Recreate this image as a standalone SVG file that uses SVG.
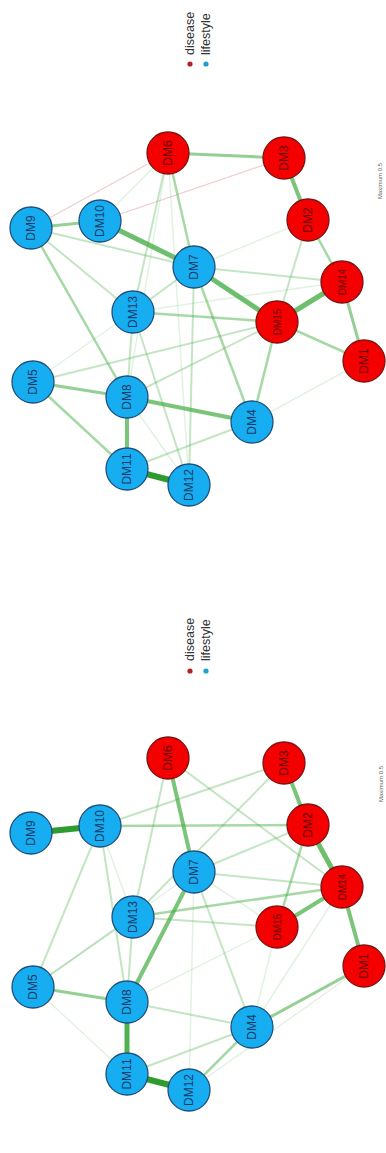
<svg xmlns="http://www.w3.org/2000/svg" width="386" height="1153" viewBox="0 0 386 1153">
<style>
line{fill:none;stroke-linecap:round}
.w6{stroke:#2e9b2e;stroke-width:6}
.w5{stroke:#3caa3c;stroke-opacity:.75;stroke-width:5}
.w4{stroke:#3caa3c;stroke-opacity:.68;stroke-width:4}
.w3{stroke:#3caa3c;stroke-opacity:.55;stroke-width:3}
.w25{stroke:#3caa3c;stroke-opacity:.45;stroke-width:2.5}
.l2{stroke:#3caa3c;stroke-opacity:.3;stroke-width:2}
.f{stroke:#3caa3c;stroke-opacity:.15;stroke-width:1.5}
.pk{stroke:#d98080;stroke-opacity:.4;stroke-width:1.2}
.nb circle{fill:#16aef0;stroke:#1d4f7c;stroke-width:1.3}
.nr circle{fill:#f40000;stroke:#7e1010;stroke-width:1.3}
.nb text,.nr text{font-family:"Liberation Sans",Arial,sans-serif;font-size:12px;text-anchor:middle;dominant-baseline:central}
.nb text{fill:#163b6b}
.nr text{fill:#6e0000}
.sm{font-size:10px!important}
.lg{font-family:"Liberation Sans",Arial,sans-serif;font-size:12.5px;fill:#333;dominant-baseline:central}
.mx{font-family:"Liberation Sans",Arial,sans-serif;font-size:6px;fill:#666;text-anchor:middle;dominant-baseline:central}
</style>

<!-- ===== TOP PANEL ===== -->
<g id="top-panel">
<g id="top-legend">
<circle cx="190" cy="64" r="2.6" fill="#b22222"/>
<circle cx="206" cy="64" r="2.6" fill="#1e9fd0"/>
<text class="lg" x="190" y="55" transform="rotate(-90 190 55)">disease</text>
<text class="lg" x="206" y="55" transform="rotate(-90 206 55)">lifestyle</text>
<text class="mx" x="380" y="181" transform="rotate(-90 380 181)">Maximum 0.5</text>
</g>
<g id="top-edges">
<line class="pk" x1="100" y1="221" x2="284" y2="158"/>
<line class="pk" x1="31" y1="228" x2="168" y2="153"/>
<line class="f" x1="168" y1="153" x2="100" y2="221"/>
<line class="f" x1="168" y1="153" x2="127" y2="397"/>
<line class="f" x1="168" y1="153" x2="189" y2="485"/>
<line class="f" x1="33" y1="382" x2="133" y2="312"/>
<line class="f" x1="127" y1="397" x2="189" y2="485"/>
<line class="f" x1="252" y1="422" x2="364" y2="361"/>
<line class="f" x1="133" y1="312" x2="342" y2="282"/>
<line class="f" x1="308" y1="220" x2="194" y2="267"/>
<line class="l2" x1="168" y1="153" x2="133" y2="312"/>
<line class="l2" x1="31" y1="228" x2="133" y2="312"/>
<line class="l2" x1="31" y1="228" x2="194" y2="267"/>
<line class="l2" x1="194" y1="267" x2="342" y2="282"/>
<line class="l2" x1="194" y1="267" x2="189" y2="485"/>
<line class="l2" x1="133" y1="312" x2="127" y2="397"/>
<line class="l2" x1="133" y1="312" x2="189" y2="485"/>
<line class="l2" x1="133" y1="312" x2="194" y2="267"/>
<line class="l2" x1="33" y1="382" x2="277" y2="322"/>
<line class="l2" x1="127" y1="397" x2="277" y2="322"/>
<line class="l2" x1="127" y1="469" x2="252" y2="422"/>
<line class="l2" x1="308" y1="220" x2="277" y2="322"/>
<line class="w25" x1="168" y1="153" x2="194" y2="267"/>
<line class="w25" x1="194" y1="267" x2="252" y2="422"/>
<line class="w25" x1="133" y1="312" x2="277" y2="322"/>
<line class="w25" x1="252" y1="422" x2="277" y2="322"/>
<line class="w25" x1="308" y1="220" x2="342" y2="282"/>
<line class="w25" x1="277" y1="322" x2="364" y2="361"/>
<line class="w25" x1="31" y1="228" x2="127" y2="397"/>
<line class="w25" x1="33" y1="382" x2="127" y2="469"/>
<line class="w3" x1="168" y1="153" x2="284" y2="158"/>
<line class="w3" x1="31" y1="228" x2="100" y2="221"/>
<line class="w3" x1="33" y1="382" x2="127" y2="397"/>
<line class="w3" x1="342" y1="282" x2="364" y2="361"/>
<line class="w4" x1="284" y1="158" x2="308" y2="220"/>
<line class="w4" x1="127" y1="397" x2="127" y2="469"/>
<line class="w4" x1="127" y1="397" x2="252" y2="422"/>
<line class="w5" x1="100" y1="221" x2="194" y2="267"/>
<line class="w5" x1="194" y1="267" x2="277" y2="322"/>
<line class="w5" x1="342" y1="282" x2="277" y2="322"/>
<line class="w6" x1="127" y1="469" x2="189" y2="485"/>
</g>
<g id="top-DM6" class="nr"><circle cx="168" cy="153" r="21"/><text x="168" y="153" transform="rotate(-90 168 153)">DM6</text></g>
<g id="top-DM3" class="nr"><circle cx="284" cy="158" r="21"/><text x="284" y="158" transform="rotate(-90 284 158)">DM3</text></g>
<g id="top-DM2" class="nr"><circle cx="308" cy="220" r="21"/><text x="308" y="220" transform="rotate(-90 308 220)">DM2</text></g>
<g id="top-DM14" class="nr"><circle cx="342" cy="282" r="21"/><text class="sm" x="342" y="282" transform="rotate(-90 342 282)">DM14</text></g>
<g id="top-DM15" class="nr"><circle cx="277" cy="322" r="21"/><text class="sm" x="277" y="322" transform="rotate(-90 277 322)">DM15</text></g>
<g id="top-DM1" class="nr"><circle cx="364" cy="361" r="21"/><text x="364" y="361" transform="rotate(-90 364 361)">DM1</text></g>
<g id="top-DM9" class="nb"><circle cx="31" cy="228" r="21"/><text x="31" y="228" transform="rotate(-90 31 228)">DM9</text></g>
<g id="top-DM10" class="nb"><circle cx="100" cy="221" r="21"/><text x="100" y="221" transform="rotate(-90 100 221)">DM10</text></g>
<g id="top-DM7" class="nb"><circle cx="194" cy="267" r="21"/><text x="194" y="267" transform="rotate(-90 194 267)">DM7</text></g>
<g id="top-DM13" class="nb"><circle cx="133" cy="312" r="21"/><text x="133" y="312" transform="rotate(-90 133 312)">DM13</text></g>
<g id="top-DM5" class="nb"><circle cx="33" cy="382" r="21"/><text x="33" y="382" transform="rotate(-90 33 382)">DM5</text></g>
<g id="top-DM8" class="nb"><circle cx="127" cy="397" r="21"/><text x="127" y="397" transform="rotate(-90 127 397)">DM8</text></g>
<g id="top-DM4" class="nb"><circle cx="252" cy="422" r="21"/><text x="252" y="422" transform="rotate(-90 252 422)">DM4</text></g>
<g id="top-DM11" class="nb"><circle cx="127" cy="469" r="21"/><text x="127" y="469" transform="rotate(-90 127 469)">DM11</text></g>
<g id="top-DM12" class="nb"><circle cx="189" cy="485" r="21"/><text x="189" y="485" transform="rotate(-90 189 485)">DM12</text></g>
</g>

<!-- ===== BOTTOM PANEL ===== -->
<g id="bottom-panel" transform="translate(0 605)">
<g id="bottom-legend">
<circle cx="190" cy="66" r="2.6" fill="#b22222"/>
<circle cx="206" cy="66" r="2.6" fill="#1e9fd0"/>
<text class="lg" x="190" y="56" transform="rotate(-90 190 56)">disease</text>
<text class="lg" x="206" y="56" transform="rotate(-90 206 56)">lifestyle</text>
<text class="mx" x="381" y="179" transform="rotate(-90 381 179)">Maximum 0.5</text>
</g>
<g id="bottom-edges">
<line class="f" x1="100" y1="221" x2="133" y2="312"/>
<line class="f" x1="33" y1="382" x2="194" y2="267"/>
<line class="f" x1="33" y1="382" x2="127" y2="469"/>
<line class="f" x1="127" y1="397" x2="277" y2="322"/>
<line class="f" x1="252" y1="422" x2="277" y2="322"/>
<line class="f" x1="252" y1="422" x2="342" y2="282"/>
<line class="f" x1="189" y1="485" x2="364" y2="361"/>
<line class="f" x1="194" y1="267" x2="189" y2="485"/>
<line class="f" x1="194" y1="267" x2="277" y2="322"/>
<line class="l2" x1="100" y1="221" x2="284" y2="158"/>
<line class="l2" x1="168" y1="153" x2="342" y2="282"/>
<line class="l2" x1="284" y1="158" x2="133" y2="312"/>
<line class="l2" x1="308" y1="220" x2="194" y2="267"/>
<line class="l2" x1="194" y1="267" x2="342" y2="282"/>
<line class="l2" x1="133" y1="312" x2="277" y2="322"/>
<line class="l2" x1="194" y1="267" x2="252" y2="422"/>
<line class="l2" x1="127" y1="397" x2="252" y2="422"/>
<line class="l2" x1="33" y1="382" x2="100" y2="221"/>
<line class="l2" x1="33" y1="382" x2="133" y2="312"/>
<line class="l2" x1="100" y1="221" x2="127" y2="397"/>
<line class="l2" x1="133" y1="312" x2="127" y2="397"/>
<line class="l2" x1="168" y1="153" x2="133" y2="312"/>
<line class="l2" x1="127" y1="469" x2="252" y2="422"/>
<line class="w25" x1="189" y1="485" x2="252" y2="422"/>
<line class="w25" x1="100" y1="221" x2="308" y2="220"/>
<line class="w25" x1="133" y1="312" x2="342" y2="282"/>
<line class="w25" x1="308" y1="220" x2="277" y2="322"/>
<line class="w3" x1="33" y1="382" x2="127" y2="397"/>
<line class="w3" x1="252" y1="422" x2="364" y2="361"/>
<line class="w4" x1="168" y1="153" x2="194" y2="267"/>
<line class="w4" x1="284" y1="158" x2="308" y2="220"/>
<line class="w4" x1="342" y1="282" x2="364" y2="361"/>
<line class="w4" x1="342" y1="282" x2="277" y2="322"/>
<line class="w4" x1="194" y1="267" x2="127" y2="397"/>
<line class="w5" x1="308" y1="220" x2="342" y2="282"/>
<line class="w5" x1="127" y1="397" x2="127" y2="469" style="stroke-opacity:.9"/>
<line class="w6" x1="31" y1="228" x2="100" y2="221"/>
<line class="w6" x1="127" y1="469" x2="189" y2="485"/>
</g>
<g id="bottom-DM6" class="nr"><circle cx="168" cy="153" r="21"/><text x="168" y="153" transform="rotate(-90 168 153)">DM6</text></g>
<g id="bottom-DM3" class="nr"><circle cx="284" cy="158" r="21"/><text x="284" y="158" transform="rotate(-90 284 158)">DM3</text></g>
<g id="bottom-DM2" class="nr"><circle cx="308" cy="220" r="21"/><text x="308" y="220" transform="rotate(-90 308 220)">DM2</text></g>
<g id="bottom-DM14" class="nr"><circle cx="342" cy="282" r="21"/><text class="sm" x="342" y="282" transform="rotate(-90 342 282)">DM14</text></g>
<g id="bottom-DM15" class="nr"><circle cx="277" cy="322" r="21"/><text class="sm" x="277" y="322" transform="rotate(-90 277 322)">DM15</text></g>
<g id="bottom-DM1" class="nr"><circle cx="364" cy="361" r="21"/><text x="364" y="361" transform="rotate(-90 364 361)">DM1</text></g>
<g id="bottom-DM9" class="nb"><circle cx="31" cy="228" r="21"/><text x="31" y="228" transform="rotate(-90 31 228)">DM9</text></g>
<g id="bottom-DM10" class="nb"><circle cx="100" cy="221" r="21"/><text x="100" y="221" transform="rotate(-90 100 221)">DM10</text></g>
<g id="bottom-DM7" class="nb"><circle cx="194" cy="267" r="21"/><text x="194" y="267" transform="rotate(-90 194 267)">DM7</text></g>
<g id="bottom-DM13" class="nb"><circle cx="133" cy="312" r="21"/><text x="133" y="312" transform="rotate(-90 133 312)">DM13</text></g>
<g id="bottom-DM5" class="nb"><circle cx="33" cy="382" r="21"/><text x="33" y="382" transform="rotate(-90 33 382)">DM5</text></g>
<g id="bottom-DM8" class="nb"><circle cx="127" cy="397" r="21"/><text x="127" y="397" transform="rotate(-90 127 397)">DM8</text></g>
<g id="bottom-DM4" class="nb"><circle cx="252" cy="422" r="21"/><text x="252" y="422" transform="rotate(-90 252 422)">DM4</text></g>
<g id="bottom-DM11" class="nb"><circle cx="127" cy="469" r="21"/><text x="127" y="469" transform="rotate(-90 127 469)">DM11</text></g>
<g id="bottom-DM12" class="nb"><circle cx="189" cy="485" r="21"/><text x="189" y="485" transform="rotate(-90 189 485)">DM12</text></g>
</g>
</svg>
